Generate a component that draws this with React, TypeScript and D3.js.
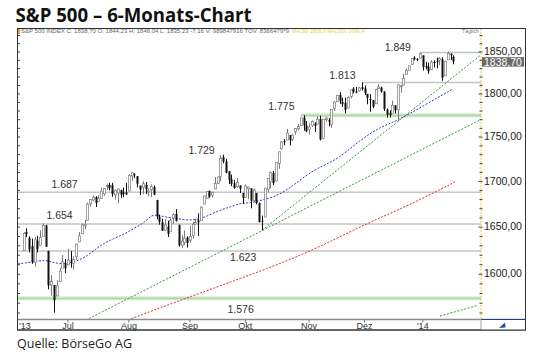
import React from 'react';
import * as d3 from 'd3';

// ---- price data (S&P 500 daily, Jun 7 2013 – Jan 17 2014) ----
const dates = [
  "2013-06-07","2013-06-10","2013-06-11","2013-06-12","2013-06-13","2013-06-14","2013-06-17","2013-06-18","2013-06-19","2013-06-20","2013-06-21","2013-06-24","2013-06-25","2013-06-26","2013-06-27","2013-06-28",
  "2013-07-01","2013-07-02","2013-07-03","2013-07-05","2013-07-08","2013-07-09","2013-07-10","2013-07-11","2013-07-12","2013-07-15","2013-07-16","2013-07-17","2013-07-18","2013-07-19","2013-07-22","2013-07-23","2013-07-24","2013-07-25","2013-07-26","2013-07-29","2013-07-30","2013-07-31",
  "2013-08-01","2013-08-02","2013-08-05","2013-08-06","2013-08-07","2013-08-08","2013-08-09","2013-08-12","2013-08-13","2013-08-14","2013-08-15","2013-08-16","2013-08-19","2013-08-20","2013-08-21","2013-08-22","2013-08-23","2013-08-26","2013-08-27","2013-08-28","2013-08-29","2013-08-30",
  "2013-09-03","2013-09-04","2013-09-05","2013-09-06","2013-09-09","2013-09-10","2013-09-11","2013-09-12","2013-09-13","2013-09-16","2013-09-17","2013-09-18","2013-09-19","2013-09-20","2013-09-23","2013-09-24","2013-09-25","2013-09-26","2013-09-27","2013-09-30",
  "2013-10-01","2013-10-02","2013-10-03","2013-10-04","2013-10-07","2013-10-08","2013-10-09","2013-10-10","2013-10-11","2013-10-14","2013-10-15","2013-10-16","2013-10-17","2013-10-18","2013-10-21","2013-10-22","2013-10-23","2013-10-24","2013-10-25","2013-10-28","2013-10-29","2013-10-30","2013-10-31",
  "2013-11-01","2013-11-04","2013-11-05","2013-11-06","2013-11-07","2013-11-08","2013-11-11","2013-11-12","2013-11-13","2013-11-14","2013-11-15","2013-11-18","2013-11-19","2013-11-20","2013-11-21","2013-11-22","2013-11-25","2013-11-26","2013-11-27","2013-11-29",
  "2013-12-02","2013-12-03","2013-12-04","2013-12-05","2013-12-06","2013-12-09","2013-12-10","2013-12-11","2013-12-12","2013-12-13","2013-12-16","2013-12-17","2013-12-18","2013-12-19","2013-12-20","2013-12-23","2013-12-24","2013-12-26","2013-12-27","2013-12-30","2013-12-31",
  "2014-01-02","2014-01-03","2014-01-06","2014-01-07","2014-01-08","2014-01-09","2014-01-10","2014-01-13","2014-01-14","2014-01-15","2014-01-16","2014-01-17"
];
const open = [
  1625.3,1644.7,1638.6,1629.9,1612.2,1635.5,1630.6,1639.8,1651.8,1624.6,1588.6,1588.8,1577.5,1592.3,1606.4,1611.1,
  1609.8,1614.3,1611.5,1618.7,1634.2,1642.9,1651.6,1657.4,1675.3,1679.6,1682.7,1677.9,1681.1,1686.2,1694.4,1696.1,1696.1,1685.2,1687.3,1690.3,1687.9,1687.8,
  1689.4,1706.1,1708.0,1705.8,1695.3,1693.4,1696.1,1688.4,1690.7,1693.9,1679.6,1661.2,1655.3,1646.8,1650.7,1645.0,1659.9,1664.3,1652.5,1630.3,1633.5,1638.9,
  1636.0,1640.7,1653.3,1657.4,1656.9,1675.1,1681.0,1689.2,1685.0,1691.7,1697.7,1705.7,1727.3,1722.4,1711.4,1702.6,1698.0,1694.1,1695.5,1687.3,
  1682.4,1691.9,1692.4,1678.8,1687.2,1676.2,1657.0,1660.9,1691.1,1699.9,1709.2,1700.5,1720.2,1736.7,1745.2,1746.5,1752.3,1747.5,1756.0,1759.4,1762.9,1772.3,1763.2,
  1758.7,1763.4,1765.7,1765.0,1770.7,1748.4,1770.0,1769.5,1764.4,1782.8,1790.7,1798.8,1790.8,1789.6,1783.5,1797.0,1806.3,1802.9,1803.5,1808.0,
  1806.6,1800.1,1794.1,1792.8,1788.4,1806.2,1807.6,1802.8,1781.7,1778.0,1777.5,1786.5,1781.5,1809.0,1810.4,1822.9,1828.0,1835.0,1843.0,1841.5,1842.6,
  1845.9,1833.2,1832.3,1828.7,1837.9,1839.0,1840.1,1841.3,1821.4,1840.5,1848.0,1844.2
];
const high = [
  1644.4,1648.7,1640.1,1637.7,1639.3,1640.8,1646.5,1654.2,1652.5,1624.6,1599.2,1588.8,1593.8,1606.8,1620.1,1615.9,
  1626.6,1624.3,1619.0,1632.1,1644.7,1654.2,1657.9,1676.6,1680.2,1684.5,1683.7,1684.8,1693.1,1692.1,1697.6,1698.4,1698.4,1690.9,1691.9,1690.9,1693.2,1698.4,
  1707.9,1709.7,1709.2,1705.8,1695.3,1700.2,1699.4,1692.5,1696.8,1695.5,1679.6,1663.6,1659.2,1658.9,1657.0,1659.6,1664.9,1669.5,1652.5,1641.2,1646.4,1640.1,
  1651.4,1655.7,1659.2,1664.8,1672.4,1684.1,1689.1,1690.0,1688.7,1705.0,1705.5,1729.4,1729.9,1725.2,1711.4,1707.6,1701.7,1703.9,1695.5,1687.3,
  1696.6,1693.9,1692.4,1691.9,1687.2,1676.8,1662.5,1692.6,1703.4,1711.0,1711.6,1721.8,1733.4,1745.3,1747.8,1759.3,1752.3,1753.9,1759.8,1765.0,1772.1,1775.2,1768.5,
  1765.7,1768.8,1767.0,1773.7,1774.5,1770.8,1773.4,1771.8,1782.0,1791.5,1798.2,1802.3,1795.5,1795.7,1797.2,1804.8,1808.1,1808.4,1808.3,1813.6,
  1810.0,1800.1,1799.8,1792.8,1806.0,1811.5,1808.5,1803.0,1783.0,1780.9,1792.2,1786.8,1811.1,1810.9,1823.8,1829.8,1833.3,1842.8,1844.9,1842.5,1849.4,
  1845.9,1838.2,1837.2,1840.1,1840.0,1843.2,1843.8,1843.5,1839.3,1850.8,1848.0,1846.0
];
const low = [
  1625.3,1639.3,1622.9,1610.9,1608.1,1623.0,1630.3,1639.8,1628.9,1584.3,1577.7,1560.3,1577.1,1592.3,1606.4,1601.1,
  1609.8,1606.8,1604.6,1615.0,1634.2,1642.9,1647.7,1657.4,1672.3,1677.9,1671.8,1677.9,1681.1,1684.1,1690.7,1690.1,1683.0,1680.1,1676.0,1681.9,1682.4,1684.9,
  1689.4,1700.7,1703.6,1693.3,1684.9,1686.0,1686.0,1683.5,1682.6,1684.8,1658.6,1652.6,1645.8,1646.1,1639.4,1645.0,1653.4,1656.0,1629.1,1627.5,1630.9,1628.1,
  1633.4,1637.4,1653.1,1640.6,1656.9,1675.1,1681.0,1682.0,1682.2,1691.7,1697.7,1700.4,1720.2,1708.9,1697.1,1694.9,1691.9,1693.1,1687.1,1675.0,
  1682.1,1680.3,1670.4,1677.3,1674.7,1655.0,1646.5,1660.9,1688.5,1692.1,1695.9,1700.5,1714.1,1735.7,1740.6,1746.5,1740.5,1745.5,1752.5,1757.7,1762.9,1757.2,1755.7,
  1752.7,1761.6,1755.8,1764.4,1746.2,1747.6,1767.8,1762.3,1760.6,1780.2,1790.7,1788.4,1784.7,1777.2,1783.5,1794.7,1800.6,1800.8,1802.8,1804.0,
  1798.6,1787.9,1779.1,1783.4,1788.4,1806.2,1801.4,1780.1,1772.3,1772.4,1777.5,1777.2,1768.0,1801.3,1810.3,1822.9,1828.0,1835.0,1839.8,1838.8,1842.4,
  1827.7,1829.1,1823.7,1828.7,1831.4,1830.4,1834.1,1815.5,1821.4,1840.5,1840.3,1835.2
];
const close = [
  1643.4,1642.8,1626.1,1612.5,1636.4,1626.7,1639.0,1651.8,1628.9,1588.2,1592.4,1573.1,1588.0,1603.3,1613.2,1606.3,
  1615.0,1614.1,1615.4,1631.9,1640.5,1652.3,1652.6,1675.0,1680.2,1682.5,1676.3,1680.9,1689.4,1692.1,1695.5,1692.4,1685.9,1690.3,1691.7,1685.3,1686.0,1685.7,
  1706.9,1709.7,1707.1,1697.4,1690.9,1697.5,1691.4,1689.5,1694.2,1685.4,1661.3,1655.8,1646.1,1652.4,1642.8,1657.0,1663.5,1656.8,1630.5,1635.0,1638.2,1633.0,
  1639.8,1653.1,1655.1,1655.2,1671.7,1684.0,1689.1,1683.4,1688.0,1697.6,1704.8,1725.5,1722.3,1709.9,1701.8,1697.4,1692.8,1698.7,1691.8,1681.6,
  1695.0,1693.9,1678.7,1690.5,1676.1,1655.5,1656.4,1692.6,1703.2,1710.1,1698.1,1721.5,1733.2,1744.5,1744.7,1754.7,1746.4,1752.1,1759.8,1762.1,1772.0,1763.3,1756.5,
  1761.6,1767.9,1763.0,1770.5,1747.2,1770.6,1771.9,1767.7,1782.0,1790.6,1798.2,1791.5,1787.9,1781.4,1795.9,1804.8,1802.5,1802.8,1807.2,1805.8,
  1800.9,1795.2,1792.8,1785.0,1805.1,1808.4,1802.6,1782.2,1775.5,1775.3,1786.5,1781.0,1810.7,1809.6,1818.3,1828.0,1833.3,1842.0,1841.4,1841.1,1848.4,
  1832.0,1831.4,1826.8,1837.9,1837.5,1838.1,1842.4,1819.2,1838.9,1848.4,1845.9,1838.7
];

// ---- indicator lines (trading-day index, value) ----
const maBlueIdx = [-2,3,8,10,13,17,20,23,26,29,33,37,40,44,46,48.5,51,54.6,58.2,62.6,66.2,70.9,74.5,78.1,81.7,86,90.7,96.1,99.7,105.8,113.1,121.4,128.6,134.7,144.1,154.9];
const maBlueVal = [1610.8,1612.9,1614.9,1612.9,1610.8,1611.8,1614.9,1619.2,1626.5,1632.9,1638.3,1643.6,1649.1,1655.5,1663.1,1663.1,1660.9,1659.8,1657.7,1657.7,1662.0,1668.6,1671.8,1676.1,1676.1,1679.5,1682.9,1692.6,1701.6,1715.0,1724.0,1746.6,1761.6,1768.5,1785.8,1805.9];
const maRedIdx = [37.7,49.2,61.8,81.7,103.3,122.4,139.4,155.6];
const maRedVal = [1553.0,1565.2,1578.5,1599.1,1623.3,1652.3,1674.1,1699.4];

const trendStartIdx = [23.6, 86, 150.2];
const trendStartVal = [1554.4, 1646.5, 1556.9];
const trendEndIdx = [164.6, 164.6, 163.9];
const trendEndVal = [1769.6, 1845.5, 1567.8];

const levelVal = [1849.44, 1813.55, 1688.0, 1653.5, 1624.5];
const levelFromIdx = [143, 122, -2, -2, -2];
const bandVal = [1775.0, 1575.0];
const bandFromIdx = [100, -2];

const annotText = ["1.849", "1.813", "1.775", "1.729", "1.687", "1.654", "1.623", "1.576"];
const annotIdx = [135, 115, 93, 64.2, 14.8, 13, 79.2, 78.3];
const annotVal = [1849.44, 1813.55, 1775.0, 1729.86, 1688.0, 1653.5, 1624.5, 1575.0];
const annotDy = [-5.5, -7.4, -9.3, -4.1, -8.3, -8.3, 6.7, 11.3];

const yTicks = [1600, 1650, 1700, 1750, 1800, 1850];
const monthLabels = ["'13", "Jul", "Aug", "Sep", "Okt", "Nov", "Dez", "'14"];

const headerText = "S&P 500 INDEX C: 1838,70 O: 1844,23 H: 1846,04 L: 1835,23 -7,16 V: 989847916 TOV: 8366479*9";
const headerText2 = "MA(38) 1805,9  MA(200) 1699,4";

export default function App() {
  const x = d3.scaleLinear().domain([-2, 165]).range([18, 481]);
  const y = d3.scaleLog().domain([1554.6, 1878]).range([318.3, 29]);
  const parse = d3.timeParse("%Y-%m-%d");
  const parsed = dates.map(d => parse(d) as Date);
  const monthStarts: number[] = [];
  parsed.forEach((d, i) => {
    if (i > 0 && d.getMonth() !== parsed[i - 1].getMonth()) monthStarts.push(i);
  });

  const line = d3.line<[number, number]>().x(d => x(d[0])).y(d => y(d[1])).curve(d3.curveBasis);
  const straight = d3.line<[number, number]>().x(d => x(d[0])).y(d => y(d[1]));
  const blue = line(maBlueIdx.map((v, i) => [v, maBlueVal[i]]));
  const red = line(maRedIdx.map((v, i) => [v, maRedVal[i]]));
  const minorTicks = d3.range(1560, 1880, 10);
  const last = close[close.length - 1];
  const fmt = (v: number) => v.toFixed(2).replace('.', ',');
  const boxTop = y(last) - 4.2;

  return (
    <div style={{ position: 'absolute', left: 0, top: 0 }}>
      <svg width={540} height={363} style={{ display: 'block', background: '#fff' }} fontFamily="'Liberation Sans', Arial, sans-serif">
        <defs>
          <clipPath id="plot"><rect x={18} y={29} width={463} height={290} /></clipPath>
        </defs>
        <rect x={0} y={0} width={540} height={363} fill="#fff" />
        <text x={15.5} y={21.5} fontFamily="'Open Sans', sans-serif" fontWeight={700} fontSize={19.5} fill="#111" textLength={236} lengthAdjust="spacingAndGlyphs">S&amp;P 500 – 6-Monats-Chart</text>

        {/* frame */}
        <rect x={17.5} y={28.5} width={508} height={301.5} fill="#fff" stroke="#333" strokeWidth={1} />
        <rect x={17} y={29} width={3} height={5} fill="#f0a020" />
        <text x={21} y={33.3} fontSize={5.2} fill="#666" textLength={268} lengthAdjust="spacingAndGlyphs">{headerText}</text>
        <text x={292} y={33.3} fontSize={5.2} fill="#e4d050" textLength={72} lengthAdjust="spacingAndGlyphs">{headerText2}</text>
        <text x={462} y={33.3} fontSize={5.2} fill="#777" textLength={17} lengthAdjust="spacingAndGlyphs">Täglich</text>

        <g clipPath="url(#plot)">
          {/* green bands */}
          {bandVal.map((v, i) => (
            <g key={'b' + i}>
              <rect x={x(bandFromIdx[i])} y={y(v) - 2} width={481 - x(bandFromIdx[i])} height={4} fill="#cfe8c9" />
              <line x1={x(bandFromIdx[i])} x2={481} y1={y(v)} y2={y(v)} stroke="#a9d3a0" strokeWidth={1} />
            </g>
          ))}
          {/* horizontal levels */}
          {levelVal.map((v, i) => (
            <line key={'l' + i} x1={x(levelFromIdx[i])} x2={481} y1={y(v)} y2={y(v)} stroke="#c4c4c4" strokeWidth={1.5} />
          ))}
          {/* trend lines */}
          {trendStartIdx.map((s, i) => (
            <path key={'t' + i} d={straight([[s, trendStartVal[i]], [trendEndIdx[i], trendEndVal[i]]]) || ''} fill="none" stroke="#3a9a3a" strokeWidth={1} strokeDasharray="2,1.6" />
          ))}
          <path d={red || ''} fill="none" stroke="#e03030" strokeWidth={1} strokeDasharray="2,1.5" />
          <path d={blue || ''} fill="none" stroke="#3535c8" strokeWidth={1} strokeDasharray="2,1.5" />
          {/* candles */}
          {close.map((c, i) => {
            const cx = Math.round(x(i));
            const up = c >= open[i];
            const top = y(Math.max(c, open[i]));
            const bot = y(Math.min(c, open[i]));
            return (
              <g key={'c' + i}>
                <line x1={cx + 0.5} x2={cx + 0.5} y1={y(high[i])} y2={y(low[i])} stroke={up ? '#7a7a7a' : '#111'} strokeWidth={1} />
                <rect x={cx - 0.5} y={top} width={2} height={Math.max(1, bot - top)} fill={up ? '#fff' : '#111'} stroke={up ? '#7a7a7a' : 'none'} strokeWidth={up ? 0.7 : 0} />
              </g>
            );
          })}
        </g>

        {/* annotations */}
        {annotText.map((t, i) => (
          <text key={'a' + i} x={x(annotIdx[i])} y={y(annotVal[i]) + annotDy[i]} dy="0.35em" textAnchor="middle" fontSize={10.5} fill="#333">{t}</text>
        ))}

        {/* left minor ticks */}
        {minorTicks.map(v => (
          <line key={'lt' + v} x1={17} x2={20} y1={y(v)} y2={y(v)} stroke="#444" strokeWidth={1} />
        ))}
        {/* right axis */}
        <line x1={481} x2={481} y1={29} y2={319} stroke="#e6cf50" strokeWidth={1} strokeDasharray="2,1" />
        {minorTicks.map(v => (
          <line key={'rt' + v} x1={v % 50 === 0 ? 478.5 : 479.5} x2={482.5} y1={y(v)} y2={y(v)} stroke="#444" strokeWidth={1} />
        ))}
        {yTicks.map(v => (
          <text key={'yt' + v} x={484} y={y(v) - 0.5} dy="0.35em" fontSize={10.5} fill="#222">{fmt(v)}</text>
        ))}
        <rect x={482} y={boxTop} width={42} height={9.5} fill="#6b6b6b" />
        <text x={484} y={boxTop + 4.9} dy="0.35em" fontSize={10.5} fill="#fff">{fmt(last)}</text>

        {/* x axis strip */}
        <line x1={17.5} x2={525.5} y1={319.5} y2={319.5} stroke="#8a8a8a" strokeWidth={1.5} />
        {monthStarts.map(i => (
          <line key={'mt' + i} x1={x(i)} x2={x(i)} y1={320} y2={322.5} stroke="#777" strokeWidth={1} />
        ))}
        <text x={19} y={328.5} fontSize={9} fill="#333">{monthLabels[0]}</text>
        {monthStarts.map((idx, k) => (
          <text key={'ml' + idx} x={x(idx)} y={328.5} textAnchor="middle" fontSize={9} fill="#333">{monthLabels[k + 1]}</text>
        ))}
        <rect x={481} y={319.5} width={44.5} height={10.5} fill="#fff" stroke="none" />
        <line x1={481} x2={525.5} y1={319.5} y2={319.5} stroke="#223c8a" strokeWidth={1} />
        <line x1={481} x2={481} y1={319.5} y2={330} stroke="#9aa" strokeWidth={1} />
        <polygon points="499,328 505,322.5 505.5,327.5" fill="#2b4bb0" />
        <rect x={17.5} y={28.5} width={508} height={301.5} fill="none" stroke="#333" strokeWidth={1} />

        <text x={17} y={348} fontFamily="'Open Sans', sans-serif" fontSize={13.5} fill="#222" textLength={115} lengthAdjust="spacingAndGlyphs">Quelle: BörseGo AG</text>
      </svg>
    </div>
  );
}
